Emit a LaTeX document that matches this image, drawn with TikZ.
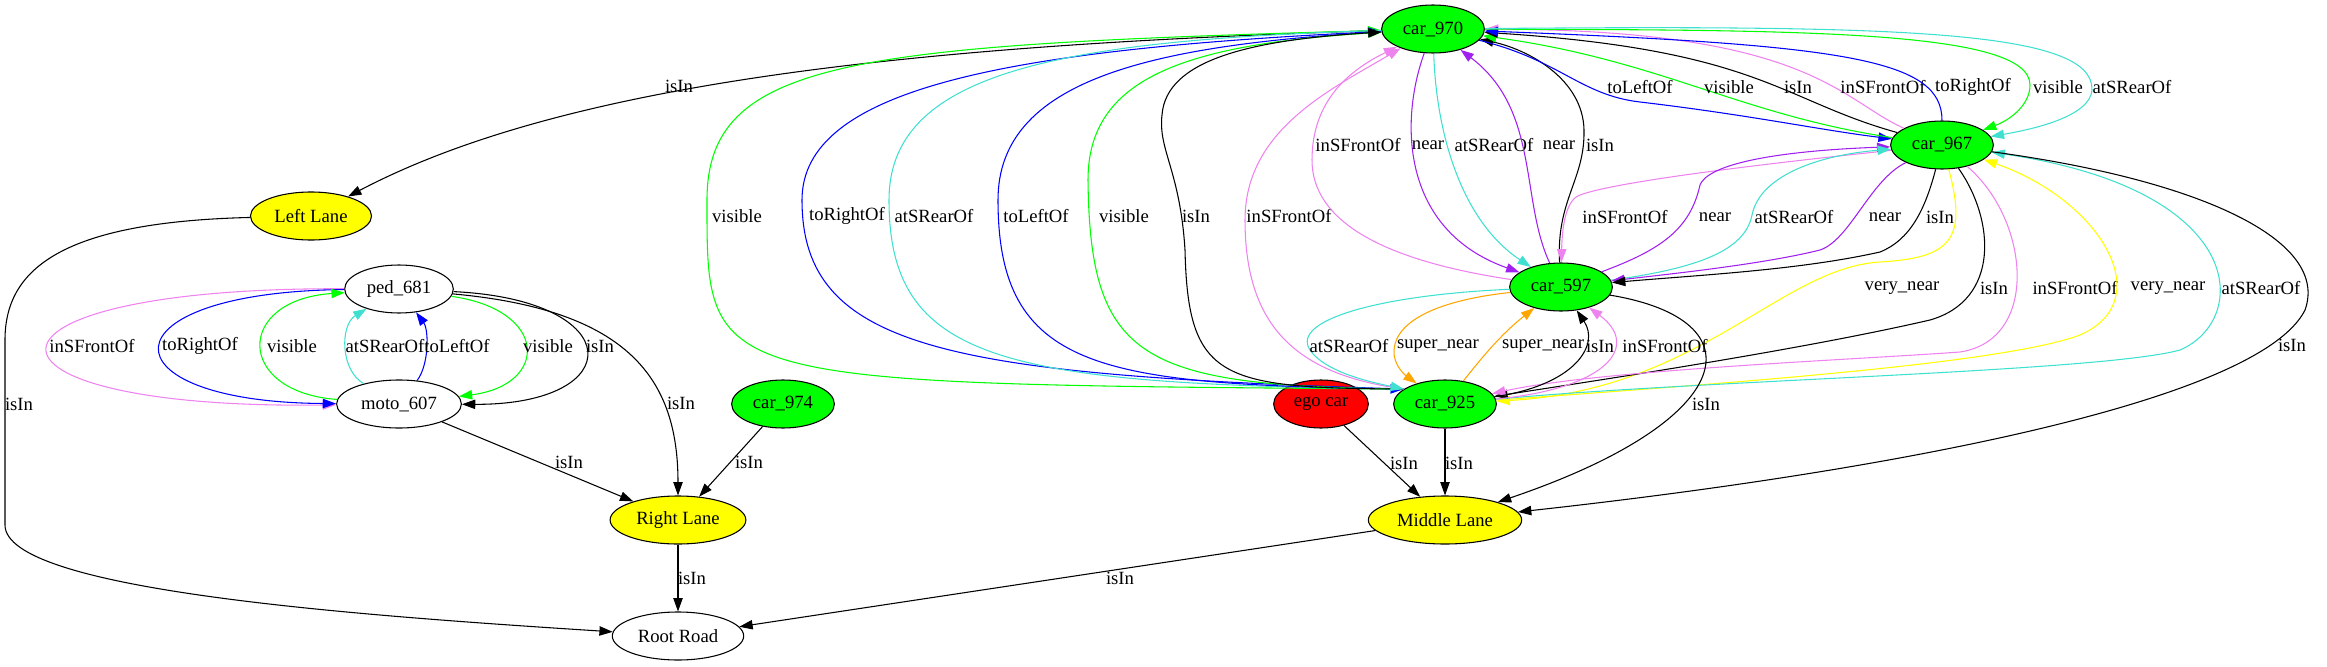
\documentclass[tikz,border=0pt]{standalone}
\usepackage{fontspec}
\setmainfont{Liberation Serif}
\usepackage{tikz}
\usetikzlibrary{arrows.meta, shapes.geometric}

\definecolor{gvgreen}{HTML}{00FF00}
\definecolor{gvyellow}{HTML}{FFFF00}
\definecolor{gvred}{HTML}{FF0000}
\definecolor{gvblue}{HTML}{0000FF}
\definecolor{gvviolet}{HTML}{EE82EE}
\definecolor{gvpurple}{HTML}{A020F0}
\definecolor{gvturq}{HTML}{40E0D0}
\definecolor{gvorange}{HTML}{FFA500}

\begin{document}
\begin{tikzpicture}[x=0.75pt, y=-0.75pt,
        obj/.style={ellipse, draw, line width=0.8pt, minimum height=36pt, inner xsep=4.7pt, inner ysep=2pt, font=\fontsize{14pt}{17pt}\selectfont},
        car/.style={obj, fill=gvgreen},
        lane/.style={obj, fill=gvyellow},
        rel/.style={-{Triangle[length=10pt, width=7pt]}, line width=0.8pt},
        lbl/.style={text=black, inner sep=0pt, font=\fontsize{14pt}{17pt}\selectfont}]
        \useasboundingbox (0,0) rectangle (2327,667);

        \node[car] at (1433, 29)   (car970) {car\_970};
        \node[car] at (1942, 145)  (car967) {car\_967};
        \node[car] at (1561, 287)  (car597) {car\_597};
        \node[car] at (1445, 404)  (car925) {car\_925};
        \node[obj, fill=gvred] at (1321, 404) (egocar) {ego car};
        \node[car] at (783, 404)   (car974) {car\_974};
        \node[obj] at (399, 289)   (ped681) {ped\_681};
        \node[obj] at (399, 404)   (moto607) {moto\_607};
        \node[lane] at (311, 216)  (leftlane) {Left Lane};
        \node[lane] at (678, 520)  (rightlane) {Right Lane};
        \node[lane] at (1445, 520) (midlane) {Middle Lane};
        \node[obj] at (678, 636)   (rootroad) {Root Road};

        \draw[rel] (car970) .. controls (900,45) and (560,85) .. (leftlane) node[lbl, at={(679,86)}] {isIn};
        \draw[rel] (leftlane) .. controls (60,222) and (5,270) .. (5,340) -- (5,525) .. controls (5,590) and (350,615) .. (rootroad) node[lbl, at={(19,404)}] {isIn};

        \draw[rel, gvviolet] (ped681) .. controls (-50,287) and (-50,410) .. (moto607) node[lbl, at={(92,346)}] {inSFrontOf};
        \draw[rel, gvblue] (ped681) .. controls (100,292) and (100,402) .. (moto607) node[lbl, at={(200,346)}] {toRightOf};
        \draw[rel, gvgreen] (moto607) .. controls (235,392) and (235,300) .. (ped681) node[lbl, at={(292,346)}] {visible};
        \draw[rel, gvturq] (moto607) .. controls (340,370) and (340,325) .. (ped681) node[lbl, at={(385,346)}] {atSRearOf};
        \draw[rel, gvblue] (moto607) .. controls (429,365) and (429,330) .. (ped681) node[lbl, at={(457,346)}] {toLeftOf};
        \draw[rel, gvgreen] (ped681) .. controls (549,310) and (549,385) .. (moto607) node[lbl, at={(548,346)}] {visible};
        \draw[rel] (ped681) .. controls (629,300) and (629,405) .. (moto607) node[lbl, at={(600,346)}] {isIn};
        \draw[rel] (ped681) .. controls (630,310) and (678,380) .. (rightlane) node[lbl, at={(681,403)}] {isIn};
        \draw[rel] (moto607) -- (rightlane) node[lbl, at={(569,462)}] {isIn};
        \draw[rel] (car974) -- (rightlane) node[lbl, at={(749,462)}] {isIn};
        \draw[rel] (rightlane) -- (rootroad) node[lbl, at={(692,578)}] {isIn};
        \draw[rel] (midlane) -- (rootroad) node[lbl, at={(1120,578)}] {isIn};
        \draw[rel] (egocar) -- (midlane) node[lbl, at={(1404,463)}] {isIn};
        \draw[rel] (car925) -- (midlane) node[lbl, at={(1459,463)}] {isIn};

        \draw[rel, gvgreen] (car925.160) .. controls (700,384) and (707,384) .. (707,200) .. controls (707,60) and (850,45) .. (car970) node[lbl, at={(737,216)}] {visible};
        \draw[rel, gvblue] (car925.160) .. controls (950,375) and (802,350) .. (802,200) .. controls (802,90) and (1000,50) .. (car970) node[lbl, at={(847,216)}] {toRightOf};
        \draw[rel, gvturq] (car970) .. controls (1050,40) and (889,75) .. (889,200) .. controls (889,360) and (1000,384) .. (car925.160) node[lbl, at={(934,216)}] {atSRearOf};
        \draw[rel, gvblue] (car970) .. controls (1150,45) and (998,80) .. (998,200) .. controls (998,370) and (1100,384) .. (car925.160) node[lbl, at={(1036,216)}] {toLeftOf};
        \draw[rel, gvgreen] (car925.160) .. controls (1140,386) and (1090,360) .. (1088,180) .. controls (1088,80) and (1180,45) .. (car970) node[lbl, at={(1124,216)}] {visible};
        \draw[rel] (car925.160) .. controls (1220,388) and (1188,380) .. (1185,250) .. controls (1180,170) and (1158,150) .. (1162,115) .. controls (1166,60) and (1250,40) .. (car970) node[lbl, at={(1196,216)}] {isIn};
        \draw[rel, gvviolet] (car925.160) .. controls (1300,375) and (1245,330) .. (1245,220) .. controls (1245,130) and (1330,90) .. (car970) node[lbl, at={(1289,216)}] {inSFrontOf};

        \draw[rel, gvviolet] (car597) .. controls (1380,260) and (1312,220) .. (1312,160) .. controls (1312,100) and (1350,70) .. (car970) node[lbl, at={(1358,145)}] {inSFrontOf};
        \draw[rel, gvpurple] (car970) .. controls (1400,120) and (1400,230) .. (car597) node[lbl, at={(1428,145)}] {near};
        \draw[rel, gvturq] (car970) .. controls (1436,130) and (1460,220) .. (car597) node[lbl, at={(1494,145)}] {atSRearOf};
        \draw[rel, gvpurple] (car597) .. controls (1520,200) and (1540,110) .. (car970) node[lbl, at={(1559,145)}] {near};
        \draw[rel] (car597) .. controls (1556,200) and (1585,180) .. (1584,130) .. controls (1583,80) and (1530,50) .. (car970) node[lbl, at={(1600,145)}] {isIn};

        \draw[rel, gvblue] (car970) .. controls (1560,60) and (1580,95) .. (1640,102) .. controls (1750,115) and (1820,130) .. (car967) node[lbl, at={(1640,87)}] {toLeftOf};
        \draw[rel, gvgreen] (car967) .. controls (1740,115) and (1660,60) .. (car970) node[lbl, at={(1729,87)}] {visible};
        \draw[rel] (car967) .. controls (1780,100) and (1760,50) .. (car970) node[lbl, at={(1798,87)}] {isIn};
        \draw[rel, gvviolet] (car967) .. controls (1840,100) and (1810,30) .. (car970) node[lbl, at={(1883,87)}] {inSFrontOf};
        \draw[rel, gvblue] (car967) .. controls (1942,60) and (1850,45) .. (car970) node[lbl, at={(1973,87)}] {toRightOf};
        \draw[rel, gvgreen] (car970) .. controls (1800,30) and (2030,30) .. (2030,85) .. controls (2030,105) and (2010,120) .. (car967) node[lbl, at={(2058,87)}] {visible};
        \draw[rel, gvturq] (car970) .. controls (1900,25) and (2094,30) .. (2092,90) .. controls (2090,115) and (2040,128) .. (car967) node[lbl, at={(2132,87)}] {atSRearOf};

        \draw[rel, gvviolet] (car967) .. controls (1800,160) and (1620,180) .. (1580,195) .. controls (1565,200) and (1562,230) .. (car597) node[lbl, at={(1625,217)}] {inSFrontOf};
        \draw[rel, gvpurple] (car597) .. controls (1660,250) and (1690,230) .. (1700,185) .. controls (1710,160) and (1800,150) .. (car967) node[lbl, at={(1715,217)}] {near};
        \draw[rel, gvturq] (car597) .. controls (1700,268) and (1745,250) .. (1752,215) .. controls (1760,175) and (1820,155) .. (car967) node[lbl, at={(1794,217)}] {atSRearOf};
        \draw[rel, gvpurple] (car967) .. controls (1870,180) and (1850,240) .. (1820,250) .. controls (1760,265) and (1660,275) .. (car597) node[lbl, at={(1885,217)}] {near};
        \draw[rel] (car967) .. controls (1925,210) and (1910,240) .. (1880,252) .. controls (1800,270) and (1700,275) .. (car597) node[lbl, at={(1940,217)}] {isIn};

        \draw[rel, gvyellow] (car967) .. controls (1968,240) and (1950,258) .. (1880,262) .. controls (1780,268) and (1700,390) .. (car925) node[lbl, at={(1902,288)}] {very\_near};
        \draw[rel] (car967) .. controls (1995,220) and (2000,300) .. (1930,320) .. controls (1800,350) and (1600,380) .. (car925) node[lbl, at={(1994,288)}] {isIn};
        \draw[rel, gvviolet] (car967) .. controls (2030,220) and (2040,340) .. (1960,352) .. controls (1850,360) and (1600,370) .. (car925) node[lbl, at={(2075,288)}] {inSFrontOf};
        \draw[rel, gvyellow] (car925) .. controls (1700,385) and (2000,365) .. (2080,335) .. controls (2160,300) and (2100,200) .. (car967) node[lbl, at={(2168,288)}] {very\_near};
        \draw[rel, gvturq] (car925) .. controls (1700,380) and (2100,372) .. (2180,350) .. controls (2250,320) and (2250,190) .. (car967) node[lbl, at={(2261,288)}] {atSRearOf};
        \draw[rel] (car967) .. controls (2200,180) and (2330,240) .. (2305,310) .. controls (2260,400) and (1900,470) .. (midlane) node[lbl, at={(2292,345)}] {isIn};

        \draw[rel, gvturq] (car597) .. controls (1380,295) and (1290,320) .. (1310,350) .. controls (1325,372) and (1370,382) .. (car925.160) node[lbl, at={(1349,346)}] {atSRearOf};
        \draw[rel, gvorange] (car597) .. controls (1440,300) and (1396,320) .. (1394,350) .. controls (1393,365) and (1405,375) .. (car925) node[lbl, at={(1438,346)}] {super\_near};
        \draw[rel, gvorange] (car925) .. controls (1480,360) and (1500,335) .. (car597) node[lbl, at={(1543,346)}] {super\_near};
        \draw[rel] (car925) .. controls (1575,385) and (1600,345) .. (car597) node[lbl, at={(1600,346)}] {isIn};
        \draw[rel, gvviolet] (car925) .. controls (1610,388) and (1640,345) .. (car597) node[lbl, at={(1665,346)}] {inSFrontOf};
        \draw[rel] (car597) .. controls (1760,320) and (1740,420) .. (midlane) node[lbl, at={(1706,404)}] {isIn};
    \end{tikzpicture}
\end{document}
